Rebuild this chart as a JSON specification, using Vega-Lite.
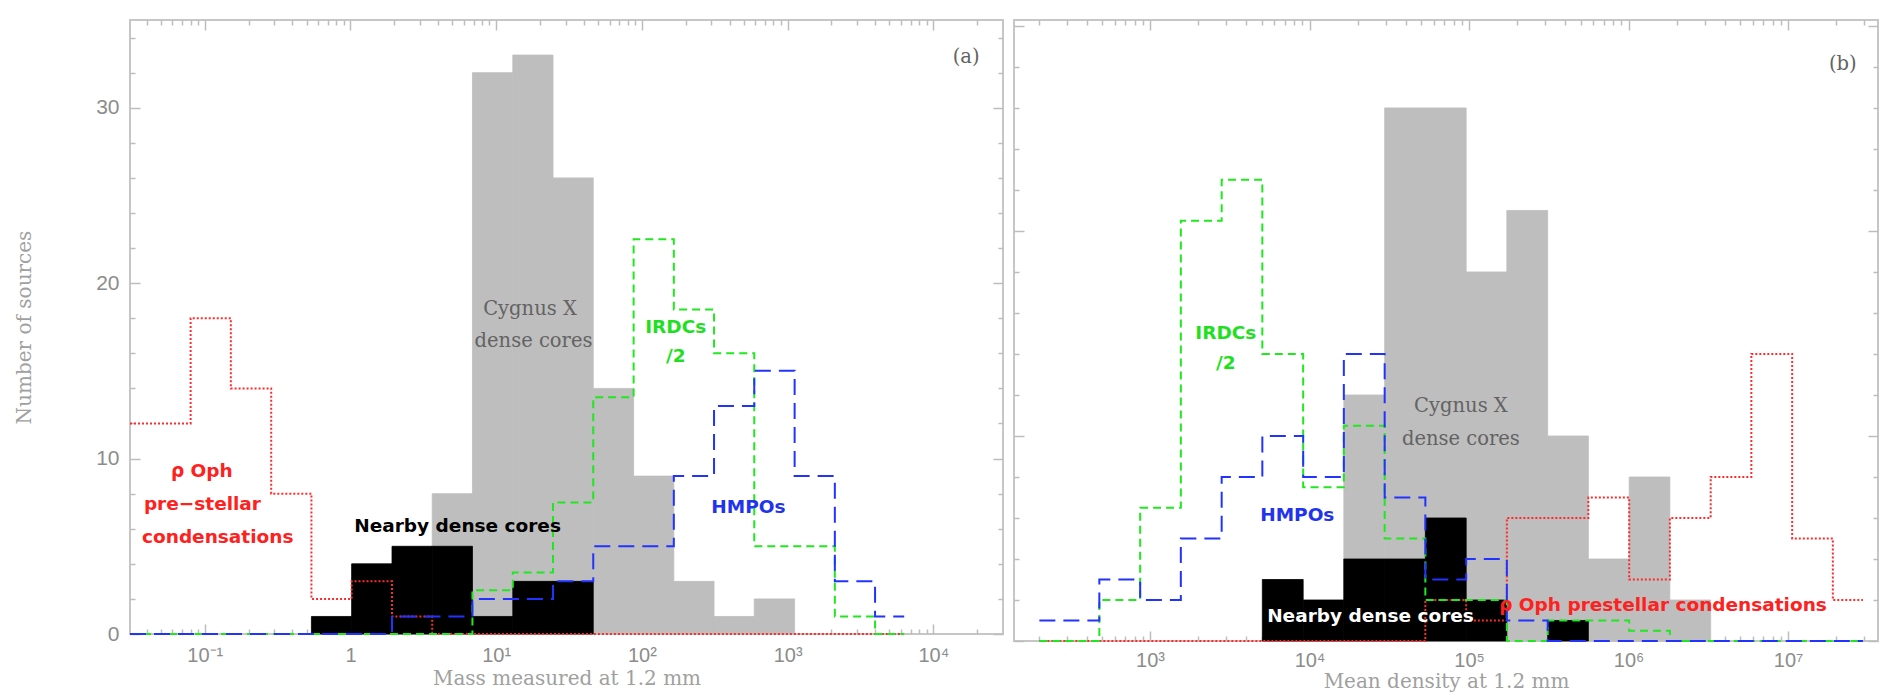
{
  "$schema": "https://vega.github.io/schema/vega-lite/v6.json",
  "background": "white",
  "padding": {"left": 13, "top": 18, "right": 11, "bottom": 0},
  "spacing": 11,
  "bounds": "flush",
  "config": {
    "view": {"stroke": "#c6c6c6", "strokeWidth": 2},
    "axis": {"grid": false, "domain": false, "tickColor": "#bdbdbd", "tickWidth": 1.5, "labelColor": "#8c8c8c", "labelFont": "Liberation Sans", "titleColor": "#a0a0a0", "titleFont": "DejaVu Serif", "titleFontWeight": "normal", "labelOverlap": false, "labelFlush": false}
  },
  "datasets": {
    "barsA": [
      {"set": "Cygnus X", "lo": 0.561, "hi": 0.837, "n": 8},
      {"set": "Cygnus X", "lo": 0.837, "hi": 1.114, "n": 32},
      {"set": "Cygnus X", "lo": 1.114, "hi": 1.39, "n": 33},
      {"set": "Cygnus X", "lo": 1.39, "hi": 1.666, "n": 26},
      {"set": "Cygnus X", "lo": 1.666, "hi": 1.943, "n": 14},
      {"set": "Cygnus X", "lo": 1.943, "hi": 2.219, "n": 9},
      {"set": "Cygnus X", "lo": 2.219, "hi": 2.495, "n": 3},
      {"set": "Cygnus X", "lo": 2.495, "hi": 2.771, "n": 1},
      {"set": "Cygnus X", "lo": 2.771, "hi": 3.048, "n": 2},
      {"set": "Nearby", "lo": -0.268, "hi": 0.008, "n": 1},
      {"set": "Nearby", "lo": 0.008, "hi": 0.285, "n": 4},
      {"set": "Nearby", "lo": 0.285, "hi": 0.561, "n": 5},
      {"set": "Nearby", "lo": 0.561, "hi": 0.837, "n": 5},
      {"set": "Nearby", "lo": 0.837, "hi": 1.114, "n": 1},
      {"set": "Nearby", "lo": 1.114, "hi": 1.39, "n": 3},
      {"set": "Nearby", "lo": 1.39, "hi": 1.666, "n": 3}
    ],
    "linesA": [
      {"set": "rho Oph", "x": -1.513, "n": 12},
      {"set": "rho Oph", "x": -1.097, "n": 18},
      {"set": "rho Oph", "x": -0.821, "n": 14},
      {"set": "rho Oph", "x": -0.544, "n": 8},
      {"set": "rho Oph", "x": -0.268, "n": 2},
      {"set": "rho Oph", "x": 0.008, "n": 3},
      {"set": "rho Oph", "x": 0.285, "n": 1},
      {"set": "rho Oph", "x": 0.561, "n": 0},
      {"set": "rho Oph", "x": 3.8, "n": 0},
      {"set": "IRDCs/2", "x": -1.513, "n": 0},
      {"set": "IRDCs/2", "x": 0.837, "n": 2.5},
      {"set": "IRDCs/2", "x": 1.114, "n": 3.5},
      {"set": "IRDCs/2", "x": 1.39, "n": 7.5},
      {"set": "IRDCs/2", "x": 1.666, "n": 13.5},
      {"set": "IRDCs/2", "x": 1.943, "n": 22.5},
      {"set": "IRDCs/2", "x": 2.219, "n": 18.5},
      {"set": "IRDCs/2", "x": 2.495, "n": 16},
      {"set": "IRDCs/2", "x": 2.771, "n": 5},
      {"set": "IRDCs/2", "x": 3.048, "n": 5},
      {"set": "IRDCs/2", "x": 3.324, "n": 1},
      {"set": "IRDCs/2", "x": 3.6, "n": 0},
      {"set": "IRDCs/2", "x": 3.8, "n": 0},
      {"set": "HMPOs", "x": -1.513, "n": 0},
      {"set": "HMPOs", "x": 0.285, "n": 1},
      {"set": "HMPOs", "x": 0.561, "n": 1},
      {"set": "HMPOs", "x": 0.837, "n": 2},
      {"set": "HMPOs", "x": 1.114, "n": 2},
      {"set": "HMPOs", "x": 1.39, "n": 3},
      {"set": "HMPOs", "x": 1.666, "n": 5},
      {"set": "HMPOs", "x": 1.943, "n": 5},
      {"set": "HMPOs", "x": 2.219, "n": 9},
      {"set": "HMPOs", "x": 2.495, "n": 13},
      {"set": "HMPOs", "x": 2.771, "n": 15},
      {"set": "HMPOs", "x": 3.048, "n": 9},
      {"set": "HMPOs", "x": 3.324, "n": 3},
      {"set": "HMPOs", "x": 3.6, "n": 1},
      {"set": "HMPOs", "x": 3.8, "n": 1}
    ],
    "boldA": [
      {"t": "ρ Oph", "x": -1.02, "n": 9.29, "set": "rho Oph"},
      {"t": "pre−stellar", "x": -1.016, "n": 7.39, "set": "rho Oph"},
      {"t": "condensations", "x": -0.911, "n": 5.54, "set": "rho Oph"},
      {"t": "Nearby dense cores", "x": 0.735, "n": 6.18, "set": "Nearby"},
      {"t": "IRDCs", "x": 2.232, "n": 17.49, "set": "IRDCs/2"},
      {"t": "/2", "x": 2.232, "n": 15.86, "set": "IRDCs/2"},
      {"t": "HMPOs", "x": 2.731, "n": 7.22, "set": "HMPOs"}
    ],
    "serifA": [
      {"t": "Cygnus X", "x": 1.232, "n": 18.54},
      {"t": "dense cores", "x": 1.256, "n": 16.69},
      {"t": "(a)", "x": 4.225, "n": 32.9}
    ],
    "barsB": [
      {"set": "Cygnus X", "lo": 4.215, "hi": 4.471, "n": 12},
      {"set": "Cygnus X", "lo": 4.471, "hi": 4.726, "n": 26},
      {"set": "Cygnus X", "lo": 4.726, "hi": 4.982, "n": 26},
      {"set": "Cygnus X", "lo": 4.982, "hi": 5.237, "n": 18},
      {"set": "Cygnus X", "lo": 5.237, "hi": 5.493, "n": 21},
      {"set": "Cygnus X", "lo": 5.493, "hi": 5.748, "n": 10},
      {"set": "Cygnus X", "lo": 5.748, "hi": 6.004, "n": 4},
      {"set": "Cygnus X", "lo": 6.004, "hi": 6.259, "n": 8},
      {"set": "Cygnus X", "lo": 6.259, "hi": 6.515, "n": 2},
      {"set": "Nearby", "lo": 3.704, "hi": 3.96, "n": 3},
      {"set": "Nearby", "lo": 3.96, "hi": 4.215, "n": 2},
      {"set": "Nearby", "lo": 4.215, "hi": 4.471, "n": 4},
      {"set": "Nearby", "lo": 4.471, "hi": 4.726, "n": 4},
      {"set": "Nearby", "lo": 4.726, "hi": 4.982, "n": 6},
      {"set": "Nearby", "lo": 4.982, "hi": 5.237, "n": 2},
      {"set": "Nearby", "lo": 5.493, "hi": 5.748, "n": 1}
    ],
    "linesB": [
      {"set": "rho Oph", "x": 2.306, "n": 0},
      {"set": "rho Oph", "x": 4.726, "n": 2},
      {"set": "rho Oph", "x": 4.982, "n": 1},
      {"set": "rho Oph", "x": 5.237, "n": 6},
      {"set": "rho Oph", "x": 5.493, "n": 6},
      {"set": "rho Oph", "x": 5.748, "n": 7},
      {"set": "rho Oph", "x": 6.004, "n": 3},
      {"set": "rho Oph", "x": 6.259, "n": 6},
      {"set": "rho Oph", "x": 6.515, "n": 8},
      {"set": "rho Oph", "x": 6.77, "n": 14},
      {"set": "rho Oph", "x": 7.026, "n": 5},
      {"set": "rho Oph", "x": 7.281, "n": 2},
      {"set": "rho Oph", "x": 7.47, "n": 2},
      {"set": "IRDCs/2", "x": 2.306, "n": 0},
      {"set": "IRDCs/2", "x": 2.682, "n": 2},
      {"set": "IRDCs/2", "x": 2.938, "n": 6.5},
      {"set": "IRDCs/2", "x": 3.193, "n": 20.5},
      {"set": "IRDCs/2", "x": 3.449, "n": 22.5},
      {"set": "IRDCs/2", "x": 3.704, "n": 14},
      {"set": "IRDCs/2", "x": 3.96, "n": 7.5},
      {"set": "IRDCs/2", "x": 4.215, "n": 10.5},
      {"set": "IRDCs/2", "x": 4.471, "n": 5},
      {"set": "IRDCs/2", "x": 4.726, "n": 2},
      {"set": "IRDCs/2", "x": 4.982, "n": 2},
      {"set": "IRDCs/2", "x": 5.237, "n": 0},
      {"set": "IRDCs/2", "x": 5.493, "n": 1},
      {"set": "IRDCs/2", "x": 5.748, "n": 1},
      {"set": "IRDCs/2", "x": 6.004, "n": 0.5},
      {"set": "IRDCs/2", "x": 6.259, "n": 0},
      {"set": "IRDCs/2", "x": 7.47, "n": 0},
      {"set": "HMPOs", "x": 2.306, "n": 1},
      {"set": "HMPOs", "x": 2.682, "n": 3},
      {"set": "HMPOs", "x": 2.938, "n": 2},
      {"set": "HMPOs", "x": 3.193, "n": 5},
      {"set": "HMPOs", "x": 3.449, "n": 8},
      {"set": "HMPOs", "x": 3.704, "n": 10},
      {"set": "HMPOs", "x": 3.96, "n": 8},
      {"set": "HMPOs", "x": 4.215, "n": 14},
      {"set": "HMPOs", "x": 4.471, "n": 7},
      {"set": "HMPOs", "x": 4.726, "n": 3},
      {"set": "HMPOs", "x": 4.982, "n": 4},
      {"set": "HMPOs", "x": 5.237, "n": 1},
      {"set": "HMPOs", "x": 5.493, "n": 0},
      {"set": "HMPOs", "x": 7.47, "n": 0}
    ],
    "boldB": [
      {"t": "IRDCs", "x": 3.475, "n": 15.02, "set": "IRDCs/2"},
      {"t": "/2", "x": 3.475, "n": 13.57, "set": "IRDCs/2"},
      {"t": "HMPOs", "x": 3.923, "n": 6.17, "set": "HMPOs"},
      {"t": "Nearby dense cores", "x": 4.382, "n": 1.2, "set": "Nearby"},
      {"t": "ρ Oph prestellar condensations", "x": 6.216, "n": 1.76, "set": "rho Oph"}
    ],
    "serifB": [
      {"t": "Cygnus X", "x": 4.949, "n": 11.48},
      {"t": "dense cores", "x": 4.949, "n": 9.83},
      {"t": "(b)", "x": 7.343, "n": 28.16}
    ]
  },
  "resolve": {"scale": {"x": "independent", "y": "independent", "color": "independent", "strokeDash": "independent", "stroke": "independent"}},
  "hconcat": [
    {
      "width": 873,
      "height": 614,
      "resolve": {"scale": {"color": "independent", "strokeDash": "independent"}, "axis": {"x": "independent", "y": "independent"}},
      "layer": [
        {
          "data": {"name": "barsA"},
          "mark": {"type": "rect", "strokeWidth": 0.8},
          "encoding": {
            "x": {"field": "lo", "type": "quantitative", "scale": {"domain": [-1.513, 4.478], "nice": false, "zero": false},
              "axis": {"orient": "bottom", "values": [-1, 0, 1, 2, 3, 4], "labelExpr": "datum.value == 0 ? '1' : '10' + (datum.value == -1 ? '⁻¹' : datum.value == 1 ? '¹' : datum.value == 2 ? '²' : datum.value == 3 ? '³' : '⁴')", "tickSize": -10, "labelPadding": 21.5, "labelFontSize": 20, "title": "Mass measured at 1.2 mm", "titleFontSize": 20, "titlePadding": 3}},
            "x2": {"field": "hi"},
            "y": {"field": "n", "type": "quantitative", "scale": {"domain": [0, 35], "nice": false},
              "axis": {"orient": "left", "values": [0, 10, 20, 30], "format": "d", "tickSize": -10, "labelPadding": 21, "labelFontSize": 21, "title": "Number of sources", "titleFontSize": 20, "titlePadding": 61}},
            "y2": {"datum": 0},
            "color": {"field": "set", "type": "nominal", "scale": {"domain": ["Cygnus X", "Nearby"], "range": ["#bebebe", "#000000"]}, "legend": null},
            "stroke": {"field": "set", "type": "nominal", "scale": {"domain": ["Cygnus X", "Nearby"], "range": ["#bebebe", "#000000"]}, "legend": null}
          }
        },
        {
          "data": {"name": "linesA"},
          "mark": {"type": "line", "interpolate": "step-after", "strokeWidth": 2},
          "encoding": {
            "x": {"field": "x", "type": "quantitative",
              "axis": {"orient": "bottom", "values": [-1.398, -1.301, -1.222, -1.155, -1.097, -1.046, -0.699, -0.523, -0.398, -0.301, -0.222, -0.155, -0.097, -0.046, 0.301, 0.477, 0.602, 0.699, 0.778, 0.845, 0.903, 0.954, 1.301, 1.477, 1.602, 1.699, 1.778, 1.845, 1.903, 1.954, 2.301, 2.477, 2.602, 2.699, 2.778, 2.845, 2.903, 2.954, 3.301, 3.477, 3.602, 3.699, 3.778, 3.845, 3.903, 3.954, 4.301], "tickSize": -5, "labels": false, "title": null}},
            "y": {"field": "n", "type": "quantitative",
              "axis": {"orient": "left", "values": [2, 4, 6, 8, 12, 14, 16, 18, 22, 24, 26, 28, 32, 34], "tickSize": -5, "labels": false, "title": null}},
            "color": {"field": "set", "type": "nominal", "scale": {"domain": ["rho Oph", "IRDCs/2", "HMPOs"], "range": ["#ff2a2a", "#1fe81f", "#2233ff"]}, "legend": null},
            "strokeDash": {"field": "set", "type": "nominal", "scale": {"domain": ["rho Oph", "IRDCs/2", "HMPOs"], "range": [[2, 2], [8, 5], [16, 8]]}, "legend": null}
          }
        },
        {
          "data": {"name": "boldA"},
          "mark": {"type": "text", "font": "DejaVu Sans", "fontWeight": "bold", "fontSize": 18.5, "align": "center", "baseline": "middle"},
          "encoding": {
            "x": {"field": "x", "type": "quantitative",
              "axis": {"orient": "top", "values": [-1, 0, 1, 2, 3, 4], "tickSize": -10, "labels": false, "title": null}},
            "y": {"field": "n", "type": "quantitative",
              "axis": {"orient": "right", "values": [0, 10, 20, 30], "tickSize": -10, "labels": false, "title": null}},
            "text": {"field": "t"},
            "color": {"field": "set", "type": "nominal", "scale": {"domain": ["rho Oph", "IRDCs/2", "HMPOs", "Nearby"], "range": ["#ff2020", "#1fe01f", "#2233ee", "#000000"]}, "legend": null}
          }
        },
        {
          "data": {"name": "serifA"},
          "mark": {"type": "text", "font": "DejaVu Serif", "fontSize": 19.5, "align": "center", "baseline": "middle", "color": "#636363"},
          "encoding": {
            "x": {"field": "x", "type": "quantitative",
              "axis": {"orient": "top", "values": [-1.398, -1.301, -1.222, -1.155, -1.097, -1.046, -0.699, -0.523, -0.398, -0.301, -0.222, -0.155, -0.097, -0.046, 0.301, 0.477, 0.602, 0.699, 0.778, 0.845, 0.903, 0.954, 1.301, 1.477, 1.602, 1.699, 1.778, 1.845, 1.903, 1.954, 2.301, 2.477, 2.602, 2.699, 2.778, 2.845, 2.903, 2.954, 3.301, 3.477, 3.602, 3.699, 3.778, 3.845, 3.903, 3.954, 4.301], "tickSize": -5, "labels": false, "title": null}},
            "y": {"field": "n", "type": "quantitative",
              "axis": {"orient": "right", "values": [2, 4, 6, 8, 12, 14, 16, 18, 22, 24, 26, 28, 32, 34], "tickSize": -5, "labels": false, "title": null}},
            "text": {"field": "t"}
          }
        }
      ]
    },
    {
      "width": 864,
      "height": 621,
      "resolve": {"scale": {"color": "independent", "strokeDash": "independent"}, "axis": {"x": "independent", "y": "independent"}},
      "layer": [
        {
          "data": {"name": "barsB"},
          "mark": {"type": "rect", "strokeWidth": 0.8},
          "encoding": {
            "x": {"field": "lo", "type": "quantitative", "scale": {"domain": [2.147, 7.564], "nice": false, "zero": false},
              "axis": {"orient": "bottom", "values": [3, 4, 5, 6, 7], "labelExpr": "'10' + (datum.value == 3 ? '³' : datum.value == 4 ? '⁴' : datum.value == 5 ? '⁵' : datum.value == 6 ? '⁶' : '⁷')", "tickSize": -10, "labelPadding": 19.5, "labelFontSize": 20, "title": "Mean density at 1.2 mm", "titleFontSize": 20, "titlePadding": 1}},
            "x2": {"field": "hi"},
            "y": {"field": "n", "type": "quantitative", "scale": {"domain": [0, 30.29], "nice": false},
              "axis": {"orient": "left", "values": [0, 10, 20, 30], "tickSize": -10, "labels": false, "title": null}},
            "y2": {"datum": 0},
            "color": {"field": "set", "type": "nominal", "scale": {"domain": ["Cygnus X", "Nearby"], "range": ["#bebebe", "#000000"]}, "legend": null},
            "stroke": {"field": "set", "type": "nominal", "scale": {"domain": ["Cygnus X", "Nearby"], "range": ["#bebebe", "#000000"]}, "legend": null}
          }
        },
        {
          "data": {"name": "linesB"},
          "mark": {"type": "line", "interpolate": "step-after", "strokeWidth": 2},
          "encoding": {
            "x": {"field": "x", "type": "quantitative",
              "axis": {"orient": "bottom", "values": [2.301, 2.477, 2.602, 2.699, 2.778, 2.845, 2.903, 2.954, 3.301, 3.477, 3.602, 3.699, 3.778, 3.845, 3.903, 3.954, 4.301, 4.477, 4.602, 4.699, 4.778, 4.845, 4.903, 4.954, 5.301, 5.477, 5.602, 5.699, 5.778, 5.845, 5.903, 5.954, 6.301, 6.477, 6.602, 6.699, 6.778, 6.845, 6.903, 6.954, 7.301, 7.477], "tickSize": -5, "labels": false, "title": null}},
            "y": {"field": "n", "type": "quantitative",
              "axis": {"orient": "left", "values": [2, 4, 6, 8, 12, 14, 16, 18, 22, 24, 26, 28], "tickSize": -5, "labels": false, "title": null}},
            "color": {"field": "set", "type": "nominal", "scale": {"domain": ["rho Oph", "IRDCs/2", "HMPOs"], "range": ["#ff2a2a", "#1fe81f", "#2233ff"]}, "legend": null},
            "strokeDash": {"field": "set", "type": "nominal", "scale": {"domain": ["rho Oph", "IRDCs/2", "HMPOs"], "range": [[2, 2], [8, 5], [16, 8]]}, "legend": null}
          }
        },
        {
          "data": {"name": "boldB"},
          "mark": {"type": "text", "font": "DejaVu Sans", "fontWeight": "bold", "fontSize": 18.5, "align": "center", "baseline": "middle"},
          "encoding": {
            "x": {"field": "x", "type": "quantitative",
              "axis": {"orient": "top", "values": [3, 4, 5, 6, 7], "tickSize": -10, "labels": false, "title": null}},
            "y": {"field": "n", "type": "quantitative",
              "axis": {"orient": "right", "values": [0, 10, 20, 30], "tickSize": -10, "labels": false, "title": null}},
            "text": {"field": "t"},
            "color": {"field": "set", "type": "nominal", "scale": {"domain": ["rho Oph", "IRDCs/2", "HMPOs", "Nearby"], "range": ["#ff2020", "#1fe01f", "#2233ee", "#ffffff"]}, "legend": null}
          }
        },
        {
          "data": {"name": "serifB"},
          "mark": {"type": "text", "font": "DejaVu Serif", "fontSize": 19.5, "align": "center", "baseline": "middle", "color": "#636363"},
          "encoding": {
            "x": {"field": "x", "type": "quantitative",
              "axis": {"orient": "top", "values": [2.301, 2.477, 2.602, 2.699, 2.778, 2.845, 2.903, 2.954, 3.301, 3.477, 3.602, 3.699, 3.778, 3.845, 3.903, 3.954, 4.301, 4.477, 4.602, 4.699, 4.778, 4.845, 4.903, 4.954, 5.301, 5.477, 5.602, 5.699, 5.778, 5.845, 5.903, 5.954, 6.301, 6.477, 6.602, 6.699, 6.778, 6.845, 6.903, 6.954, 7.301, 7.477], "tickSize": -5, "labels": false, "title": null}},
            "y": {"field": "n", "type": "quantitative",
              "axis": {"orient": "right", "values": [2, 4, 6, 8, 12, 14, 16, 18, 22, 24, 26, 28], "tickSize": -5, "labels": false, "title": null}},
            "text": {"field": "t"}
          }
        }
      ]
    }
  ]
}
